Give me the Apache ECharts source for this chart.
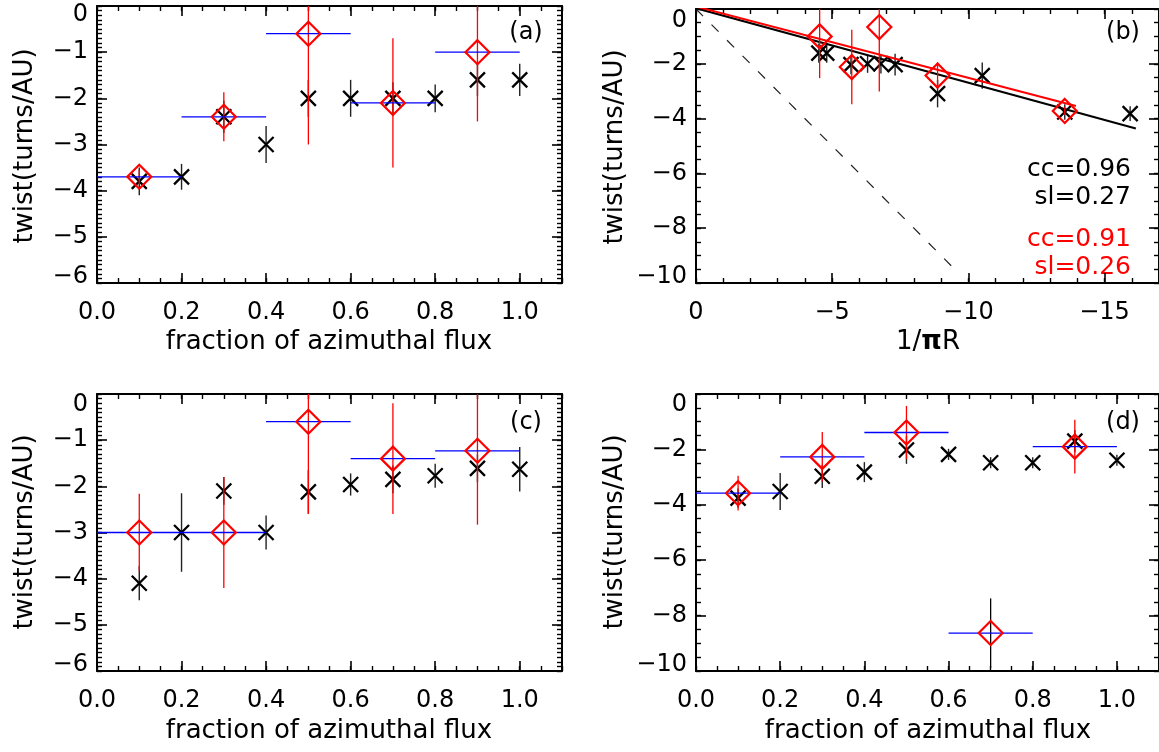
<!DOCTYPE html>
<html><head><meta charset="utf-8">
<script src="https://cdn.jsdelivr.net/npm/echarts@6/dist/echarts.min.js"></script>
<style>html,body{margin:0;padding:0;background:#fff}#c{width:1159px;height:752px}</style>
</head><body><div id="c"></div>
<script>
// ---------------- data ----------------
const fracX = [0.1, 0.2, 0.3, 0.4, 0.5, 0.6, 0.7, 0.8, 0.9, 1.0];
const binX = [0.1, 0.3, 0.5, 0.7, 0.9];
const binHalfWidth = [0.1, 0.1, 0.1, 0.1, 0.1];

// panel (a)
const aBlackY   = [-3.8, -3.7, -2.4, -3.0, -2.0, -2.0, -2.0, -2.0, -1.6, -1.6];
const aBlackErr = [0.3, 0.28, 0.35, 0.4, 0.4, 0.4, 0.35, 0.3, 0.35, 0.35];
const aRedY     = [-3.7, -2.4, -0.6, -2.1, -1.0];
const aRedErr   = [0.15, 0.53, 2.4, 1.4, 1.5];

// panel (b)
const bBlackX   = [-15.94, -13.54, -10.51, -8.87, -5.69, -6.3, -6.79, -7.31, -4.51, -4.8];
const bBlackY   = [-3.82, -3.76, -2.43, -3.09, -2.03, -2.0, -2.0, -2.03, -1.61, -1.61];
const bBlackErr = [0.27, 0.28, 0.48, 0.5, 0.35, 0.33, 0.35, 0.4, 0.35, 0.35];
const bRedX     = [-13.54, -8.87, -6.73, -5.72, -4.54];
const bRedY     = [-3.72, -2.43, -0.66, -2.12, -1.0];
const bRedErr   = [0.15, 0.48, 2.35, 1.36, 1.52];
const bFitBlack = [[0, 0.03], [-16.15, -4.36]];
const bFitRed   = [[0, 0.09], [-13.95, -3.54]];
const bOneToOne = [[0, 0], [-9.65, -9.65]];
const bStatsBlack = ['cc=0.96', 'sl=0.27'];
const bStatsRed   = ['cc=0.91', 'sl=0.26'];

// panel (c)
const cBlackY   = [-4.1, -3.0, -2.1, -3.0, -2.12, -1.96, -1.85, -1.77, -1.61, -1.63];
const cBlackErr = [0.37, 0.85, 0.3, 0.37, 0.47, 0.24, 0.3, 0.26, 0.3, 0.48];
const cRedY     = [-3.0, -3.0, -0.6, -1.4, -1.23];
const cRedErr   = [0.84, 1.2, 2.0, 1.2, 1.6];

// panel (d)
const dBlackY   = [-3.76, -3.52, -2.97, -2.82, -2.02, -2.18, -2.48, -2.48, -1.7, -2.39];
const dBlackErr = [0.35, 0.67, 0.42, 0.36, 0.5, 0.2, 0.2, 0.2, 0.4, 0.2];
const dRedY     = [-3.58, -2.27, -1.39, -8.63, -1.9];
const dRedErr   = [0.63, 0.9, 0.96, 1.25, 0.97];

// tick labels
const fracTicks    = [0, 0.2, 0.4, 0.6, 0.8, 1.0];
const twistTicks6  = [0, -1, -2, -3, -4, -5, -6];
const twistTicks10 = [0, -2, -4, -6, -8, -10];
const invRTicks    = [0, -5, -10, -15];

// ---------------- layout / style ----------------
const FONT = '"DejaVu Sans", sans-serif';
const fmtFrac = v => v.toFixed(1);
const fmtInt = v => (v < 0 ? '\u2212' + Math.abs(v) : String(Math.abs(v)));
function yFmt(minV, maxV) {
  return v => {
    const s = fmtInt(v);
    if (Math.abs(v - maxV) < 1e-9) return '{top|' + s + '}';
    if (Math.abs(v - minV) < 1e-9) return '{bot|' + s + '}';
    return s;
  };
}
function yRich(topPad) {
  return {
    top: {fontSize: 24, fontFamily: FONT, color: '#000', padding: [topPad, 0, 0, 0]},
    bot: {fontSize: 24, fontFamily: FONT, color: '#000', padding: [0, 0, 13, 0]}
  };
}

const fracAxis = {range: [0, 1.1], minor: 0.05, ticks: fracTicks, fmt: fmtFrac, inverse: false};
const panels = [
  {rect: {left: 97, top: 6, width: 465, height: 277}, x: fracAxis,
   y: {range: [-6, 0], minor: 0.1, ticks: twistTicks6, topPad: 18},
   black: {x: fracX, y: aBlackY, e: aBlackErr}, red: {x: binX, y: aRedY, e: aRedErr}, bins: true},
  {rect: {left: 696, top: 9, width: 465, height: 274},
   x: {range: [-17, 0], minor: 1, ticks: invRTicks, fmt: fmtInt, inverse: true},
   y: {range: [-10, 0], minor: 0.5, ticks: twistTicks10, topPad: 24},
   black: {x: bBlackX, y: bBlackY, e: bBlackErr}, red: {x: bRedX, y: bRedY, e: bRedErr}, bins: false, fits: true},
  {rect: {left: 97, top: 394, width: 465, height: 277}, x: fracAxis,
   y: {range: [-6, 0], minor: 0.1, ticks: twistTicks6, topPad: 22},
   black: {x: fracX, y: cBlackY, e: cBlackErr}, red: {x: binX, y: cRedY, e: cRedErr}, bins: true},
  {rect: {left: 696, top: 394, width: 465, height: 277}, x: fracAxis,
   y: {range: [-10, 0], minor: 0.5, ticks: twistTicks10, topPad: 22},
   black: {x: fracX, y: dBlackY, e: dBlackErr}, red: {x: binX, y: dRedY, e: dRedErr}, bins: true,
   redErrColorOverride: {3: '#000'}}
];

const grid = [], xAxis = [], yAxis = [], series = [];

panels.forEach((p, i) => {
  for (let layer = 0; layer < 2; layer++) {
    const g = grid.length;
    const major = layer === 1;
    grid.push({left: p.rect.left, top: p.rect.top, width: p.rect.width, height: p.rect.height});
    ['bottom', 'top'].forEach(pos => {
      xAxis.push({
        type: 'value', gridIndex: g, position: pos, min: p.x.range[0], max: p.x.range[1],
        interval: p.x.minor, inverse: p.x.inverse,
        axisLine: {show: !major, onZero: false, lineStyle: {color: '#000', width: 2}},
        splitLine: {show: false},
        axisTick: major
          ? {show: true, inside: true, length: 10, customValues: p.x.ticks, lineStyle: {color: '#000', width: 1.6}}
          : {show: true, inside: true, length: 5, lineStyle: {color: '#000', width: 1.4}},
        axisLabel: (major && pos === 'bottom')
          ? {show: true, customValues: p.x.ticks, formatter: p.x.fmt, margin: 18, fontSize: 24, fontFamily: FONT, color: '#000'}
          : {show: false}
      });
    });
    ['left', 'right'].forEach(pos => {
      yAxis.push({
        type: 'value', gridIndex: g, position: pos, min: p.y.range[0], max: p.y.range[1],
        interval: p.y.minor,
        axisLine: {show: !major, onZero: false, lineStyle: {color: '#000', width: 2}},
        splitLine: {show: false},
        axisTick: major
          ? {show: true, inside: true, length: 10, customValues: p.y.ticks, lineStyle: {color: '#000', width: 1.6}}
          : {show: true, inside: true, length: 5, lineStyle: {color: '#000', width: 1.4}},
        axisLabel: (major && pos === 'left')
          ? {show: true, customValues: p.y.ticks, formatter: yFmt(p.y.range[0], p.y.range[1]), rich: yRich(p.y.topPad),
             margin: 9, fontSize: 24, fontFamily: FONT, color: '#000'}
          : {show: false}
      });
    });
  }
  const ax = 4 * i + 2;

  function clampY(cs, v) { return Math.max(cs.y, Math.min(cs.y + cs.height, v)); }
  function clampX(cs, v) { return Math.max(cs.x, Math.min(cs.x + cs.width, v)); }

  function vErr(color, width, override) {
    return function (params, api) {
      const x = api.value(0), y = api.value(1), e = api.value(2);
      const a = api.coord([x, y + e]), b = api.coord([x, y - e]);
      const cs = params.coordSys;
      const c = (override && override[params.dataIndex]) || color;
      return {type: 'line', shape: {x1: a[0], y1: clampY(cs, a[1]), x2: b[0], y2: clampY(cs, b[1])},
              style: {stroke: c, lineWidth: width}};
    };
  }
  function hErr(color, width) {
    return function (params, api) {
      const x = api.value(0), y = api.value(1), e = api.value(2);
      const a = api.coord([x - e, y]), b = api.coord([x + e, y]);
      const cs = params.coordSys;
      return {type: 'line', shape: {x1: clampX(cs, a[0]), y1: a[1], x2: clampX(cs, b[0]), y2: b[1]},
              style: {stroke: color, lineWidth: width}};
    };
  }

  if (p.fits) {
    series.push({type: 'line', xAxisIndex: ax, yAxisIndex: ax, data: bOneToOne, showSymbol: false, silent: true,
      lineStyle: {color: '#222', width: 1.2, type: [10, 12]}, z: 1});
  }

  series.push({type: 'custom', xAxisIndex: ax, yAxisIndex: ax, silent: true, encode: {x: 0, y: 1},
    data: p.black.x.map((x, k) => [x, p.black.y[k], p.black.e[k]]),
    renderItem: vErr('#222', 1.4), z: 2});
  series.push({type: 'scatter', xAxisIndex: ax, yAxisIndex: ax, silent: true,
    data: p.black.x.map((x, k) => [x, p.black.y[k]]),
    symbol: 'path://M0,0L10,10M10,0L0,10', symbolSize: 15,
    itemStyle: {color: 'transparent', borderColor: '#000', borderWidth: 2.3, opacity: 1}, z: 3});

  if (p.fits) {
    series.push({type: 'line', xAxisIndex: ax, yAxisIndex: ax, data: bFitBlack, showSymbol: false, silent: true,
      lineStyle: {color: '#000', width: 2}, z: 4});
    series.push({type: 'line', xAxisIndex: ax, yAxisIndex: ax, data: bFitRed, showSymbol: false, silent: true,
      lineStyle: {color: '#ff0000', width: 2}, z: 4});
  }

  series.push({type: 'custom', xAxisIndex: ax, yAxisIndex: ax, silent: true, encode: {x: 0, y: 1},
    data: p.red.x.map((x, k) => [x, p.red.y[k], p.red.e[k]]),
    renderItem: vErr('#ff0000', 1.3, p.redErrColorOverride), z: 5});
  if (p.bins) {
    series.push({type: 'custom', xAxisIndex: ax, yAxisIndex: ax, silent: true, encode: {x: 0, y: 1},
      data: p.red.x.map((x, k) => [x, p.red.y[k], binHalfWidth[k]]),
      renderItem: hErr('#0000ff', 1.3), z: 6});
  }
  series.push({type: 'scatter', xAxisIndex: ax, yAxisIndex: ax, silent: true,
    data: p.red.x.map((x, k) => [x, p.red.y[k]]),
    symbol: 'diamond', symbolSize: 24,
    itemStyle: {color: 'transparent', borderColor: '#ff0000', borderWidth: 2.2, opacity: 1}, z: 7});
});

// ---------------- texts ----------------
const txt = (text, x, y, opts) => Object.assign({
  type: 'text', x: x, y: y, silent: true,
  style: Object.assign({text: text, font: '26px ' + FONT, fill: '#000', align: 'center', verticalAlign: 'middle'}, (opts && opts.style) || {})
}, opts && opts.el || {});

const graphic = [
  txt('twist(turns/AU)', 25, 146, {el: {rotation: Math.PI / 2}}),
  txt('twist(turns/AU)', 615, 147, {el: {rotation: Math.PI / 2}}),
  txt('twist(turns/AU)', 25, 532, {el: {rotation: Math.PI / 2}}),
  txt('twist(turns/AU)', 615, 532, {el: {rotation: Math.PI / 2}}),
  txt('fraction of azimuthal flux', 329, 342),
  txt('fraction of azimuthal flux', 329, 731),
  txt('fraction of azimuthal flux', 928, 731),
  {type: 'text', x: 928, y: 342, silent: true,
   style: {text: '1/{p|\u03c0}R', font: '26px ' + FONT, fill: '#000', align: 'center', verticalAlign: 'middle',
           rich: {p: {fontWeight: 'bold', fontSize: 26, fontFamily: FONT}}}},
  txt('(a)', 526, 33, {style: {font: '24px ' + FONT}}),
  txt('(b)', 1123, 33, {style: {font: '24px ' + FONT}}),
  txt('(c)', 526, 423, {style: {font: '24px ' + FONT}}),
  txt('(d)', 1123, 423, {style: {font: '24px ' + FONT}}),
  txt(bStatsBlack[0], 1131, 169, {style: {font: '25px ' + FONT, align: 'right'}}),
  txt(bStatsBlack[1], 1131, 197, {style: {font: '25px ' + FONT, align: 'right'}}),
  txt(bStatsRed[0], 1131, 239, {style: {font: '25px ' + FONT, align: 'right', fill: '#ff0000'}}),
  txt(bStatsRed[1], 1131, 267, {style: {font: '25px ' + FONT, align: 'right', fill: '#ff0000'}})
];

const chart = echarts.init(document.getElementById('c'), null, {renderer: 'canvas'});
chart.setOption({
  backgroundColor: '#fff',
  animation: false,
  grid: grid, xAxis: xAxis, yAxis: yAxis, series: series, graphic: graphic
});
</script>
</body></html>
